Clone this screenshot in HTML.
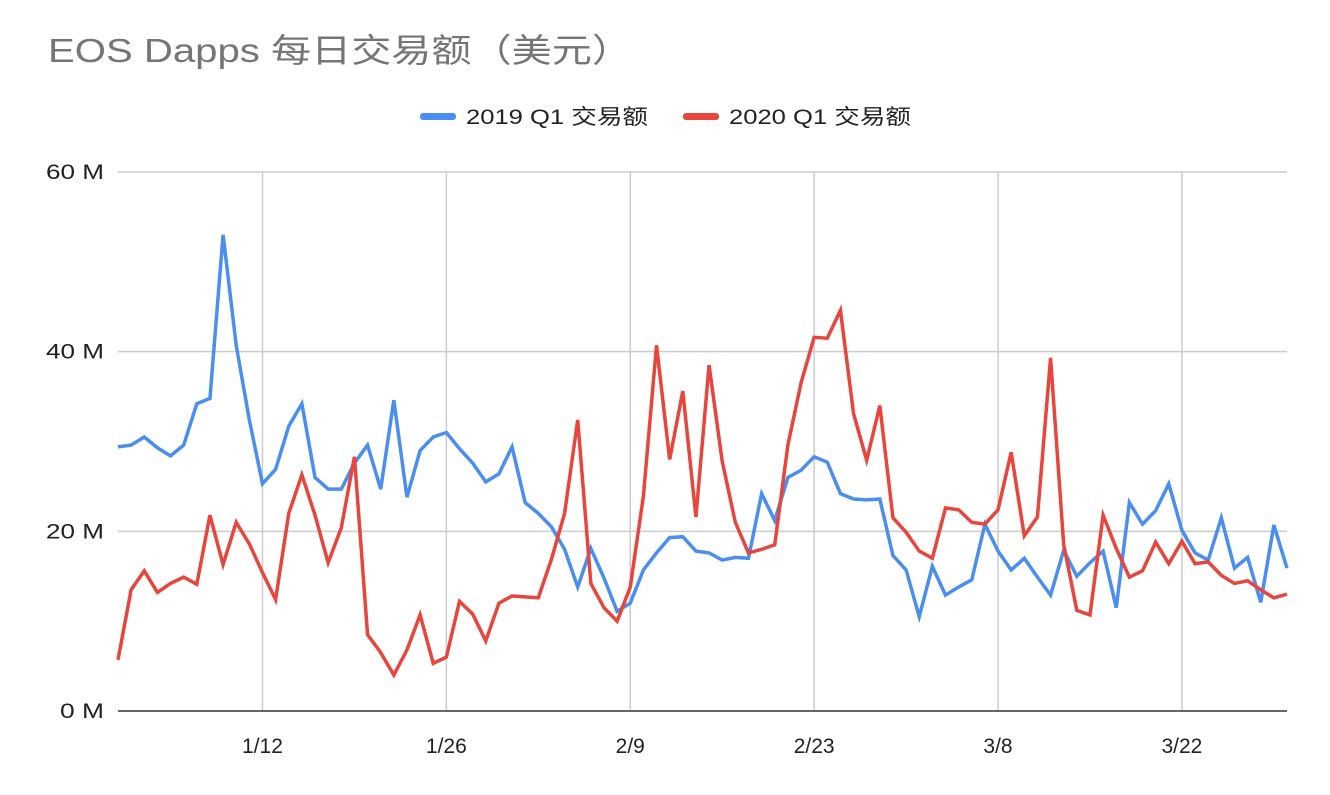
<!DOCTYPE html>
<html><head><meta charset="utf-8"><style>
body{margin:0;background:#fff;width:1330px;height:790px;overflow:hidden}
svg text{font-family:"Liberation Sans","Noto Sans CJK SC",sans-serif}
</style></head><body>
<svg id="chart" width="1330" height="790">
<text x="48" y="62" font-size="33" fill="#757575" textLength="584" lengthAdjust="spacingAndGlyphs">EOS Dapps 每日交易额（美元）</text>
<g>
<g><rect x="420" y="113" width="36" height="7" rx="3" fill="#4a8ef1"/><text x="466" y="124" font-size="21" fill="#222" textLength="182" lengthAdjust="spacingAndGlyphs">2019 Q1 交易额</text></g>
<g><rect x="683" y="113" width="36" height="7" rx="3" fill="#e8453c"/><text x="729" y="124" font-size="21" fill="#222" textLength="182" lengthAdjust="spacingAndGlyphs">2020 Q1 交易额</text></g>
</g>
<g id="grid"></g><g id="series"></g>
</svg>
<script>
const yTicks=[0,20,40,60];
const yTickLabels=["0 M","20 M","40 M","60 M"];
const xTickIdx=[11,25,39,53,67,81];
const xTickLabels=["1/12","1/26","2/9","2/23","3/8","3/22"];
const s2019=[29.4,29.6,30.5,29.3,28.4,29.6,34.2,34.8,53,40.7,32.4,25.3,26.9,31.7,34.2,26,24.7,24.7,27.6,29.6,24.7,34.6,23.8,29,30.5,31,29.2,27.6,25.5,26.4,29.4,23.2,22,20.5,18,13.8,18.1,14.8,11.1,12,15.7,17.6,19.3,19.4,17.8,17.6,16.8,17.1,17,24.2,21.2,26,26.8,28.3,27.7,24.2,23.6,23.5,23.6,17.3,15.7,10.5,16.1,12.9,13.8,14.6,20.8,17.8,15.7,17,14.9,12.9,17.9,15,16.5,17.8,11.5,23.2,20.8,22.3,25.3,20.1,17.6,16.8,21.5,15.9,17.1,12.1,20.7,15.9];
const s2020=[5.7,13.5,15.6,13.2,14.2,14.9,14.1,21.8,16.3,21,18.6,15.4,12.4,22,26.3,21.8,16.5,20.4,28.3,8.5,6.5,4,6.8,10.7,5.3,6,12.2,10.8,7.8,12,12.8,12.7,12.6,16.9,22,32.4,14.2,11.5,10,13.8,23.9,40.7,28,35.6,21.6,38.5,27.8,21,17.6,18,18.5,29.6,36.5,41.6,41.5,44.6,33.1,27.9,34,21.5,19.9,17.8,17,22.6,22.4,21,20.8,22.4,28.8,19.5,21.6,39.3,18.5,11.2,10.7,21.8,18.1,14.9,15.6,18.8,16.4,18.9,16.4,16.6,15.1,14.2,14.5,13.5,12.6,13];
const NS="http://www.w3.org/2000/svg";
const x0=118,x1=1287,yb=711,yt=172,ymax=60;
const n=s2019.length;
const X=i=>x0+(x1-x0)*i/(n-1);
const Y=v=>yb-(yb-yt)*v/ymax;
const grid=document.getElementById('grid'),ser=document.getElementById('series');
function mk(tag,attrs,parent){const e=document.createElementNS(NS,tag);for(const k in attrs)e.setAttribute(k,attrs[k]);parent.appendChild(e);return e;}
xTickIdx.forEach((d,i)=>{
 const l=mk('line',{x1:X(d),x2:X(d),y1:yt,y2:yb,stroke:'#cccccc','stroke-width':1.5},grid);
 
 
 const t=mk('text',{x:X(d),y:753,'font-size':21,fill:'#222','text-anchor':'middle'},grid);
 t.textContent=xTickLabels[i];
 
 
});
yTicks.forEach((v,i)=>{
 const l=mk('line',{x1:x0,x2:x1,y1:Y(v),y2:Y(v),stroke:v===0?'#333':'#cccccc','stroke-width':1.5},grid);
 
 
 const t=mk('text',{x:104,y:Y(v)+7,'font-size':21,fill:'#222','text-anchor':'end',textLength:(yTickLabels[i].length>3?58:44),lengthAdjust:'spacingAndGlyphs'},grid);
 t.textContent=yTickLabels[i];
 
 
});
function line(data,color,name){
 const p=mk('polyline',{points:data.map((v,i)=>X(i)+','+Y(v)).join(' '),fill:'none',stroke:color,'stroke-width':3.5,'stroke-linejoin':'miter'},ser);
 
 
}
line(s2019,'#4a8ef1','series-2019-line');
line(s2020,'#e8453c','series-2020-line');
</script>
</body></html>
